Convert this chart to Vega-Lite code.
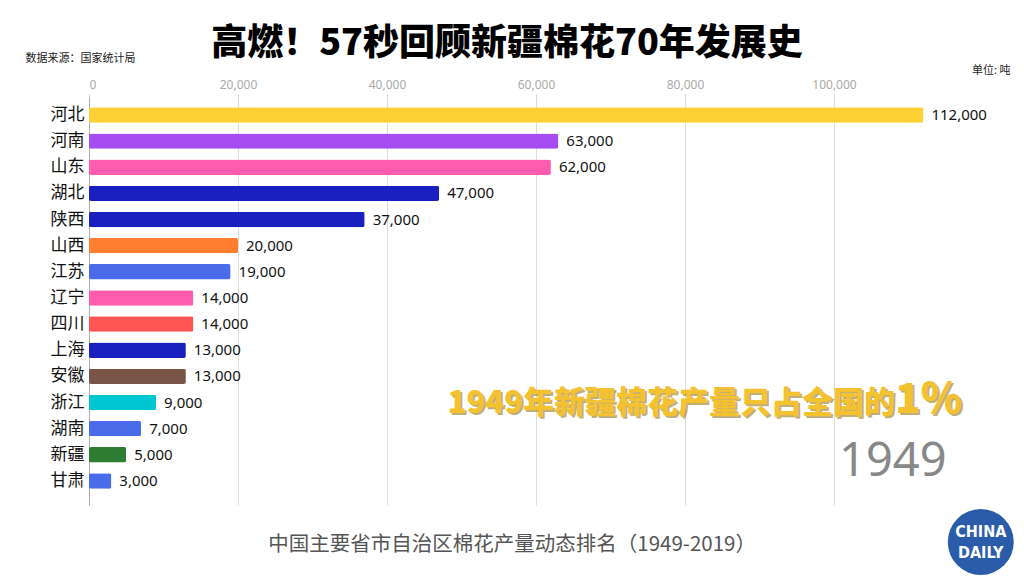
{
  "$schema": "https://vega.github.io/schema/vega-lite/v6.json",
  "width": 894,
  "height": 408,
  "autosize": {"type": "none"},
  "padding": {"left": 89, "top": 97, "right": 41, "bottom": 71},
  "background": "white",
  "config": {"view": {"stroke": null}},
  "title": {
    "text": "高燃！57秒回顾新疆棉花70年发展史",
    "font": "Noto Sans CJK SC",
    "fontSize": 36,
    "fontWeight": 900,
    "color": "#000000",
    "anchor": "middle",
    "dx": -29,
    "offset": -11
  },
  "datasets": {
    "rows": [
      {"province": "河北", "output": 112000, "color": "#FDD135"},
      {"province": "河南", "output": 63000, "color": "#A54CF2"},
      {"province": "山东", "output": 62000, "color": "#FF5CB0"},
      {"province": "湖北", "output": 47000, "color": "#1A20C0"},
      {"province": "陕西", "output": 37000, "color": "#1A20C0"},
      {"province": "山西", "output": 20000, "color": "#FF7F2E"},
      {"province": "江苏", "output": 19000, "color": "#4A6CEB"},
      {"province": "辽宁", "output": 14000, "color": "#FF5CB0"},
      {"province": "四川", "output": 14000, "color": "#FF5555"},
      {"province": "上海", "output": 13000, "color": "#1A20C0"},
      {"province": "安徽", "output": 13000, "color": "#795548"},
      {"province": "浙江", "output": 9000, "color": "#00C5D3"},
      {"province": "湖南", "output": 7000, "color": "#4A6CEB"},
      {"province": "新疆", "output": 5000, "color": "#2E7D32"},
      {"province": "甘肃", "output": 3000, "color": "#4A6CEB"}
    ],
    "notes": [
      {"province": "新疆", "x": 107900, "year": "1949"}
    ],
    "annot": [
      {"province": "浙江", "x": 108200, "main": "1949年新疆棉花产量只占全国的", "pct": "1%"}
    ],
    "caption": [
      {"province": "甘肃", "x": 56800, "text": "中国主要省市自治区棉花产量动态排名（1949-2019）"}
    ],
    "logo": [
      {"x": 119700, "v": -37}
    ],
    "logotext": [
      {"x": 119700, "v": -27, "t": "CHINA"},
      {"x": 119700, "v": -48, "t": "DAILY"}
    ]
  },
  "layer": [
    {
      "layer": [
        {
          "data": {"name": "rows"},
          "mark": {"type": "bar", "cornerRadius": 2},
          "encoding": {
            "y": {
              "field": "province",
              "type": "nominal",
              "sort": null,
              "scale": {
                "domain": ["河北", "河南", "山东", "湖北", "陕西", "山西", "江苏", "辽宁", "四川", "上海", "安徽", "浙江", "湖南", "新疆", "甘肃"],
                "paddingInner": 0.41,
                "paddingOuter": 0.509,
                "align": 0.385
              },
              "axis": {
                "title": "数据来源：国家统计局",
                "titleAngle": 0,
                "titleX": -64,
                "titleY": -39,
                "titleAlign": "left",
                "titleBaseline": "middle",
                "titleFont": "Noto Sans CJK SC",
                "titleFontSize": 11,
                "titleFontWeight": "normal",
                "titleColor": "#222222",
                "labelFont": "Noto Sans CJK SC",
                "labelFontSize": 17,
                "labelColor": "#111111",
                "labelPadding": 5,
                "ticks": false,
                "domain": true,
                "domainColor": "#aaaaaa",
                "domainWidth": 1,
                "grid": false
              }
            },
            "x": {
              "field": "output",
              "type": "quantitative",
              "scale": {"domain": [0, 120000], "nice": false},
              "axis": {
                "orient": "top",
                "values": [0, 20000, 40000, 60000, 80000, 100000],
                "format": ",.0f",
                "labelFont": "Noto Sans",
                "labelFontSize": 12,
                "labelColor": "#aaaaaa",
                "tickSize": 3,
                "tickColor": "#cccccc",
                "labelPadding": 3,
                "domain": false,
                "grid": true,
                "gridColor": "#dddddd",
                "title": "单位: 吨",
                "titleX": 921,
                "titleY": -27,
                "titleAlign": "right",
                "titleBaseline": "middle",
                "titleFont": "Noto Sans CJK SC",
                "titleFontSize": 11,
                "titleFontWeight": "normal",
                "titleColor": "#222222"
              }
            },
            "color": {"field": "color", "type": "nominal", "scale": null, "legend": null}
          }
        },
        {
          "data": {"name": "rows"},
          "mark": {"type": "text", "align": "left", "baseline": "middle", "dx": 8, "font": "Noto Sans", "fontSize": 15, "color": "#111111"},
          "encoding": {
            "y": {"field": "province", "type": "nominal", "sort": null},
            "x": {"field": "output", "type": "quantitative"},
            "text": {"field": "output", "type": "quantitative", "format": ","}
          }
        },
        {
          "data": {"name": "notes"},
          "mark": {"type": "text", "align": "center", "baseline": "middle", "dy": 7, "font": "Noto Sans", "fontSize": 47, "color": "#888888"},
          "encoding": {
            "y": {"field": "province", "type": "nominal", "sort": null},
            "x": {"field": "x", "type": "quantitative"},
            "text": {"field": "year"}
          }
        },
        {
          "data": {"name": "annot"},
          "mark": {"type": "text", "align": "right", "baseline": "alphabetic", "dy": 12, "dx": 2, "font": "Noto Sans CJK SC", "fontSize": 31, "fontWeight": 900, "color": "#9a7a20", "opacity": 0.6},
          "encoding": {
            "y": {"field": "province", "type": "nominal", "sort": null},
            "x": {"field": "x", "type": "quantitative"},
            "text": {"field": "main"}
          }
        },
        {
          "data": {"name": "annot"},
          "mark": {"type": "text", "align": "left", "baseline": "alphabetic", "dy": 12, "dx": 2, "font": "Noto Sans CJK SC", "fontSize": 42, "fontWeight": 900, "color": "#9a7a20", "opacity": 0.6},
          "encoding": {
            "y": {"field": "province", "type": "nominal", "sort": null},
            "x": {"field": "x", "type": "quantitative"},
            "text": {"field": "pct"}
          }
        },
        {
          "data": {"name": "annot"},
          "mark": {"type": "text", "align": "right", "baseline": "alphabetic", "dy": 10, "font": "Noto Sans CJK SC", "fontSize": 31, "fontWeight": 900, "color": "#F4C12F"},
          "encoding": {
            "y": {"field": "province", "type": "nominal", "sort": null},
            "x": {"field": "x", "type": "quantitative"},
            "text": {"field": "main"}
          }
        },
        {
          "data": {"name": "annot"},
          "mark": {"type": "text", "align": "left", "baseline": "alphabetic", "dy": 10, "font": "Noto Sans CJK SC", "fontSize": 42, "fontWeight": 900, "color": "#F4C12F"},
          "encoding": {
            "y": {"field": "province", "type": "nominal", "sort": null},
            "x": {"field": "x", "type": "quantitative"},
            "text": {"field": "pct"}
          }
        },
        {
          "data": {"name": "caption"},
          "mark": {"type": "text", "align": "center", "baseline": "middle", "dy": 64, "font": "Noto Sans CJK SC", "fontSize": 20.5, "color": "#555555"},
          "encoding": {
            "y": {"field": "province", "type": "nominal", "sort": null},
            "x": {"field": "x", "type": "quantitative"},
            "text": {"field": "text"}
          }
        }
      ]
    },
    {
      "layer": [
        {
          "data": {"name": "logo"},
          "mark": {"type": "point", "filled": true, "shape": "circle", "size": 4356, "color": "#2A5CAA", "opacity": 1, "clip": false},
          "encoding": {
            "x": {"field": "x", "type": "quantitative", "axis": null},
            "y": {"field": "v", "type": "quantitative", "scale": {"domain": [0, 408], "nice": false, "zero": false}, "axis": null}
          }
        },
        {
          "data": {"name": "logotext"},
          "mark": {"type": "text", "align": "center", "baseline": "middle", "font": "DejaVu Sans Condensed", "fontSize": 16, "fontWeight": "bold", "color": "#ffffff"},
          "encoding": {
            "x": {"field": "x", "type": "quantitative", "axis": null},
            "y": {"field": "v", "type": "quantitative", "axis": null},
            "text": {"field": "t"}
          }
        }
      ]
    }
  ],
  "resolve": {"scale": {"y": "independent"}, "axis": {"x": "independent"}}
}
